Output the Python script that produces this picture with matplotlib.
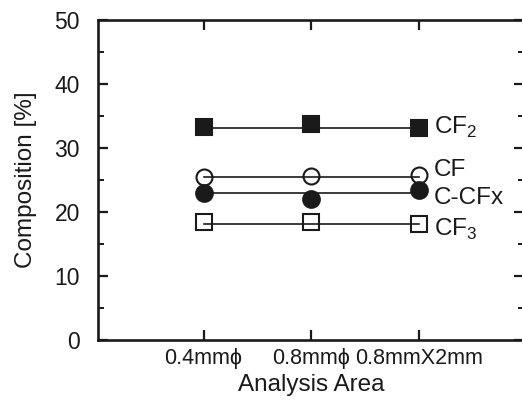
import matplotlib
matplotlib.use("Agg")
import matplotlib.pyplot as plt
import matplotlib.transforms as mtransforms
from matplotlib.ticker import MultipleLocator

plt.rcParams['font.family'] = ['Liberation Sans', 'DejaVu Sans']
plt.rcParams['mathtext.fontset'] = 'custom'
plt.rcParams['mathtext.rm'] = 'Liberation Sans'

categories = ["0.4mm\u03d5", "0.8mm\u03d5", "0.8mmX2mm"]
cf2 = [33.3, 33.8, 33.1]
cf = [25.5, 25.6, 25.8]
ccfx = [22.9, 22.1, 23.4]
cf3 = [18.5, 18.5, 18.2]
# horizontal fit levels drawn through each series
cf2_fit = 33.2
cf_fit = 25.5
ccfx_fit = 22.9
cf3_fit = 18.1
series_labels = ["CF$_\\mathrm{2}$", "CF", "C-CFx", "CF$_\\mathrm{3}$"]
y_ticks = [0, 10, 20, 30, 40, 50]

ink = "#1a1a1a"
fig = plt.figure(figsize=(5.22, 4.01), dpi=100)
ax = fig.add_axes([0.188, 0.152, 0.816, 0.798])

x = list(range(1, len(categories) + 1))

def draw(vals, fit, marker, filled, ms):
    ax.plot([x[0], x[-1]], [fit, fit], color=ink, lw=1.2, zorder=2)
    ax.plot(x, vals, ls='none', marker=marker, ms=ms,
            mfc=ink if filled else 'none', mec=ink, mew=1.5, zorder=3)

draw(cf2, cf2_fit, 's', True, 12)
draw(cf, cf_fit, 'o', False, 11.5)
draw(ccfx, ccfx_fit, 'o', True, 12)
draw(cf3, cf3_fit, 's', False, 11)

lbl_y = [cf2_fit, cf_fit + 1.1, cf_fit - 3.3, cf3_fit - 0.8]
for lab, yy in zip(series_labels, lbl_y):
    ax.text(x[-1] + 0.14, yy, lab, fontsize=17.5, color=ink, va='center', ha='left')

ax.set_xlim(0.02, 3.98)
ax.set_ylim(0, 50)
ax.set_xticks(x)
ax.set_xticklabels(categories, fontsize=15.5)
for lab, dx in zip(ax.get_xticklabels(), [5, 3, 8]):
    lab.set_transform(lab.get_transform() +
                      mtransforms.ScaledTranslation(dx / 100, 0, fig.dpi_scale_trans))
ax.set_yticks(y_ticks)
ax.tick_params(axis='y', labelsize=16.5)
ax.yaxis.set_minor_locator(MultipleLocator(5))
ax.tick_params(which='major', direction='in', length=7, width=1.6, colors=ink,
               top=True, right=True, bottom=True, left=True)
ax.tick_params(which='minor', direction='in', length=4, width=1.4, colors=ink,
               right=True, left=True)
ax.tick_params(axis='x', which='minor', bottom=False, top=False)
ax.tick_params(axis='x', pad=6)
ax.tick_params(axis='y', pad=13)

for s in ax.spines.values():
    s.set_linewidth(1.9)
    s.set_color(ink)

ax.set_xlabel("Analysis Area", fontsize=17.5, color=ink, labelpad=3)
ax.set_ylabel("Composition [%]", fontsize=17.5, color=ink, labelpad=13)

fig.savefig("out.png", dpi=100)
